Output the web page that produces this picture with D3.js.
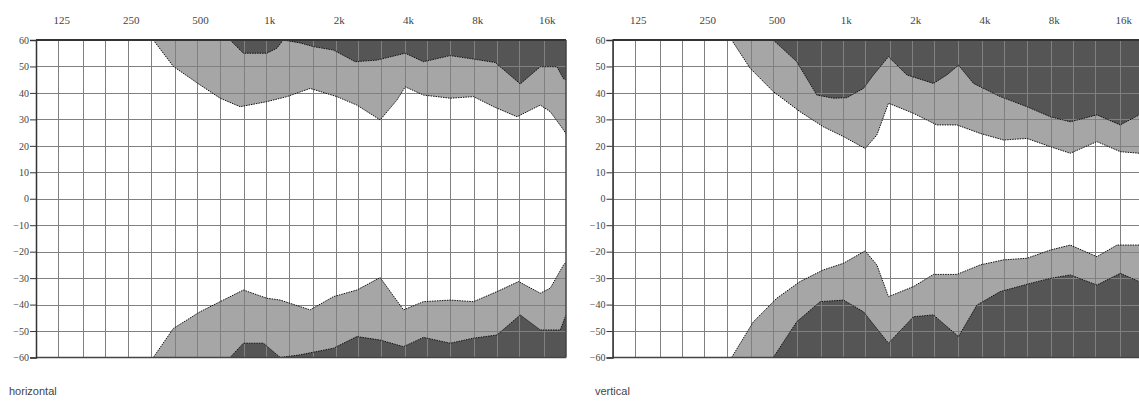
<!DOCTYPE html>
<html><head><meta charset="utf-8">
<script src="https://cdn.jsdelivr.net/npm/d3@7"></script>
<style>body{margin:0;background:#fff}svg{display:block}</style>
</head><body>
<svg id="chart" width="1139" height="403"></svg>
<script>
// ---- data ----
const freqTickValues = [125, 250, 500, 1000, 2000, 4000, 8000, 16000];
const freqTickLabels = ["125", "250", "500", "1k", "2k", "4k", "8k", "16k"];
const gridFreqs = [100,125,160,200,250,315,400,500,630,800,1000,1250,1600,2000,2500,3150,4000,5000,6300,8000,10000,12500,16000,20000];
const dbTicks = [60, 50, 40, 30, 20, 10, 0, -10, -20, -30, -40, -50, -60];
const panelTitles = ["horizontal", "vertical"];

// horizontal panel contours [Hz, dB]
const horizUpperLight = [[323,60],[395,50],[516,43],[630,38],[770,34.8],[1005,36.7],[1228,38.6],[1550,41.7],[2023,38.6],[2472,35.4],[3120,29.8],[3690,37.3],[4008,42.3],[4812,39.2],[6285,38],[7935,38.6],[9696,34.8],[12250,31],[15470,35.4],[17090,32.9],[19520,26],[20000,24.5]];
const horizUpperDark = [[696,60],[795,55],[1005,55],[1111,56.9],[1183,60],[1402,58.9],[1602,57.5],[1956,56.2],[2430,51.8],[3019,52.4],[4008,55],[4812,51.8],[6285,54.1],[7935,52.8],[9860,51.5],[12660,43.4],[15470,49.9],[18270,49.9],[19520,45.3],[20000,45]];
const horizLowerLight = [[323,-60],[395,-49],[516,-42.7],[630,-38.9],[795,-34.5],[1005,-37.6],[1149,-38.3],[1550,-42],[1956,-37],[2472,-34.5],[3120,-29.8],[3940,-42],[4812,-38.9],[6285,-38.3],[7935,-38.9],[10030,-35.1],[12450,-31.3],[15470,-35.7],[17090,-33.8],[19520,-25],[20000,-24]];
const horizLowerDark = [[696,-60],[795,-54.6],[971,-54.6],[1149,-60],[1402,-59],[1956,-56.5],[2472,-52.1],[3120,-53.4],[3940,-55.9],[4812,-52.4],[6285,-54.6],[7935,-52.7],[10030,-51.5],[12660,-43.9],[15470,-49.6],[18890,-49.6],[20000,-43.9]];

// vertical panel contours [Hz, dB]
const vertUpperLight = [[329,60],[396,49.3],[499,40.5],[652,32.9],[823,27.2],[1006,23.5],[1250,19],[1405,24.1],[1578,36.1],[2026,32.3],[2559,27.9],[3127,27.9],[3948,24.7],[4984,22.2],[6298,22.8],[7950,19.7],[9715,17.2],[12680,21.6],[16010,17.8],[19370,17.2],[20000,17.2]];
const vertUpperDark = [[499,60],[631,51.8],[771,39.2],[910,38],[1041,38.2],[1229,41.7],[1358,46.8],[1578,53.7],[1896,46.8],[2474,43.6],[2829,46.8],[3178,50.5],[3691,43.6],[4822,38.6],[6298,34.8],[7950,31],[9715,29.1],[12680,31.7],[16010,27.9],[19370,31.7],[20000,31.7]];
const vertLowerLight = [[329,-60],[409,-46.5],[517,-37.6],[652,-31.3],[823,-26.9],[1006,-24.4],[1250,-19.7],[1405,-25],[1578,-37],[2026,-33.2],[2474,-28.6],[3127,-28.6],[3948,-25],[4984,-23.1],[6298,-22.5],[7950,-19.4],[9715,-17.5],[12680,-21.9],[15490,-17.5],[19370,-17.5],[20000,-17.5]];
const vertLowerDark = [[499,-60],[631,-46.5],[797,-38.9],[1006,-38.3],[1229,-42.7],[1578,-54.6],[2026,-44.6],[2474,-43.9],[3178,-52.1],[3820,-40.2],[4822,-35.1],[6511,-32],[7950,-30.1],[9715,-28.8],[12680,-32.6],[16010,-28.2],[19370,-31.3],[20000,-31.3]];

// ---- drawing ----
const svg = d3.select("#chart");
const plotTop = 40, plotBottom = 357.5, plotW = 530;
const LIGHT = "#a6a6a6", DARK = "#555555", GRID = "#808080";

const panels = [
  {x0: 36, title: panelTitles[0], ul: horizUpperLight, ud: horizUpperDark, ll: horizLowerLight, ld: horizLowerDark, titleX: 9},
  {x0: 612.5, title: panelTitles[1], ul: vertUpperLight, ud: vertUpperDark, ll: vertLowerLight, ld: vertLowerDark, titleX: 595}
];

panels.forEach((p, i) => {
  const x = d3.scaleLog().domain([100, 20000]).range([p.x0, p.x0 + plotW]);
  const y = d3.scaleLinear().domain([-60, 60]).range([plotBottom, plotTop]);
  const g = svg.append("g");
  const clipId = "clip" + i;
  g.append("clipPath").attr("id", clipId).append("rect")
    .attr("x", p.x0).attr("y", plotTop).attr("width", plotW).attr("height", plotBottom - plotTop);
  const pg = g.append("g").attr("clip-path", `url(#${clipId})`);

  const ext = (pts, edge) => [[100, edge], ...pts];

  const upperArea = d3.area().x(d => x(d[0])).y0(y(60)).y1(d => y(d[1]));
  const lowerArea = d3.area().x(d => x(d[0])).y0(y(-60)).y1(d => y(d[1]));
  const line = d3.line().x(d => x(d[0])).y(d => y(d[1]));

  pg.append("path").attr("d", upperArea(ext(p.ul, 60))).attr("fill", LIGHT);
  pg.append("path").attr("d", upperArea(ext(p.ud, 60))).attr("fill", DARK);
  pg.append("path").attr("d", lowerArea(ext(p.ll, -60))).attr("fill", LIGHT);
  pg.append("path").attr("d", lowerArea(ext(p.ld, -60))).attr("fill", DARK);

  // grid
  pg.selectAll(".vg").data(gridFreqs).enter().append("line")
    .attr("x1", d => Math.round(x(d)) + 0.5).attr("x2", d => Math.round(x(d)) + 0.5)
    .attr("y1", plotTop).attr("y2", plotBottom).attr("stroke", GRID).attr("stroke-width", 1);
  pg.selectAll(".hg").data(dbTicks).enter().append("line")
    .attr("x1", p.x0).attr("x2", p.x0 + plotW)
    .attr("y1", d => Math.round(y(d)) + 0.5).attr("y2", d => Math.round(y(d)) + 0.5)
    .attr("stroke", GRID).attr("stroke-width", 1);

  // contour outlines
  [p.ul, p.ud, p.ll, p.ld].forEach(c => {
    pg.append("path").attr("d", line(c)).attr("fill", "none")
      .attr("stroke", "#111").attr("stroke-width", 1).attr("stroke-dasharray", "1.5,1");
  });

  // borders
  g.append("line").attr("x1", p.x0).attr("x2", p.x0 + plotW).attr("y1", plotTop).attr("y2", plotTop)
    .attr("stroke", "#333").attr("stroke-width", 2);
  g.append("line").attr("x1", p.x0).attr("x2", p.x0 + plotW).attr("y1", plotBottom).attr("y2", plotBottom)
    .attr("stroke", "#444").attr("stroke-width", 1.5);
  g.append("line").attr("x1", p.x0 + plotW).attr("x2", p.x0 + plotW).attr("y1", plotTop).attr("y2", plotBottom)
    .attr("stroke", "#444").attr("stroke-width", 1.5);

  // y axis
  const yAxis = d3.axisLeft(y).tickValues(dbTicks).tickSize(6).tickPadding(1).tickFormat(d3.format("d"));
  const ya = g.append("g").attr("transform", `translate(${p.x0},0)`).call(yAxis);
  ya.select(".domain").attr("stroke", "#333").attr("stroke-width", 1.5);
  ya.selectAll(".tick line").attr("stroke", "#333");
  ya.selectAll(".tick text").attr("font-family", "Liberation Serif, serif").attr("font-size", 10).attr("fill", "#444");

  // x axis labels on top
  const xAxis = d3.axisTop(x).tickValues(freqTickValues).tickSize(0).tickPadding(0)
    .tickFormat((d, k) => freqTickLabels[k]);
  const xa = g.append("g").attr("transform", `translate(3,24)`).call(xAxis);
  xa.select(".domain").remove();
  xa.selectAll(".tick text").attr("font-family", "Liberation Serif, serif").attr("font-size", 11).attr("fill", "#444").attr("dy", 0);

  g.append("text").attr("x", p.titleX).attr("y", 395).text(p.title)
    .attr("font-family", "Liberation Sans, Arial, sans-serif").attr("font-size", 11).attr("fill", "#444");
});
</script>
</body></html>
